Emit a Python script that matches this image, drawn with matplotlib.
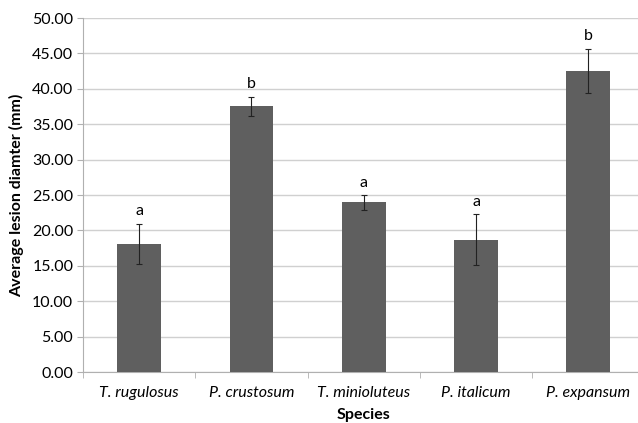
import matplotlib.pyplot as plt
import numpy as np

species = ["T. rugulosus", "P. crustosum", "T. minioluteus", "P. italicum", "P. expansum"]
means = [18.1, 37.5, 23.95, 18.7, 42.5]
errors = [2.8, 1.35, 1.0, 3.55, 3.1]
letters = ["a", "b", "a", "a", "b"]
yticks = np.arange(0, 50.01, 5)

plt.rcParams['font.family'] = ['Lato', 'DejaVu Sans']

fig = plt.figure(figsize=(6.38, 4.23), dpi=100)
ax = fig.add_axes([83 / 638, 51 / 423, 561.5 / 638, 354 / 423])

x = np.arange(len(species))
ax.bar(x, means, width=0.39, color='#5f5f5f', zorder=3)
ax.errorbar(x, means, yerr=errors, fmt='none', ecolor='#222222', elinewidth=0.8,
            capsize=2.5, capthick=0.8, zorder=4)

for xi, m, e, lab in zip(x, means, errors, letters):
    ax.text(xi, m + e + 0.8, lab, ha='center', va='bottom', fontsize=11.5)

ax.set_xlim(-0.5, len(species) - 0.5)
ax.set_ylim(0, 50)
ax.set_yticks(yticks)
ax.set_yticklabels([f"{v:.2f}" for v in yticks], fontsize=11.5)
ax.set_xticks(x)
ax.set_xticklabels(species, fontsize=11.5, style='italic')
ax.set_xticks(np.arange(-0.5, len(species)), minor=True)
ax.tick_params(axis='x', which='major', length=0, pad=10)
ax.tick_params(axis='x', which='minor', length=4, color='#b0b0b0')
ax.tick_params(axis='y', length=4, color='#b0b0b0', pad=3)

ax.yaxis.grid(True, color='#d0d0d0', linewidth=1, zorder=0)
for s in ['top', 'right']:
    ax.spines[s].set_visible(False)
ax.spines['left'].set_color('#b0b0b0')
ax.spines['bottom'].set_color('#b0b0b0')

ax.set_xlabel("Species", fontsize=11.5, fontweight='bold', labelpad=6)
ax.set_ylabel("Average lesion diamter (mm)", fontsize=11.5, fontweight='bold', labelpad=6)

fig.savefig("out.png", dpi=100)
